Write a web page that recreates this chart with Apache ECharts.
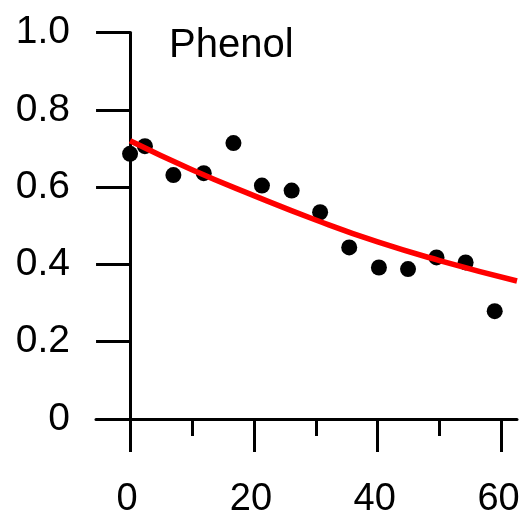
<!DOCTYPE html>
<html>
<head>
<meta charset="utf-8">
<script src="https://cdn.jsdelivr.net/npm/echarts@6/dist/echarts.min.js"></script>
<style>html,body{margin:0;padding:0;background:#fff}#c{width:524px;height:516px}</style>
</head>
<body>
<div id="c"></div>
<script>
// Measured data (time, relative amount)
var timeValues = [0, 2.4, 7.0, 11.9, 16.7, 21.3, 26.1, 30.7, 35.4, 40.2, 44.9, 49.5, 54.2, 58.9];
var phenolValues = [0.686, 0.706, 0.631, 0.636, 0.714, 0.604, 0.591, 0.535, 0.444, 0.392, 0.388, 0.418, 0.405, 0.279];
// Fitted curve
var fitX = [0, 10, 20, 30, 40, 50, 62.5];
var fitY = [0.720, 0.645, 0.578, 0.515, 0.458, 0.410, 0.357];
var xMajorTicks = [0, 20, 40, 60];
var xMinorTicks = [10, 30, 50];
var titleText = 'Phenol';

var pts = timeValues.map(function (t, i) { return [t, phenolValues[i]]; });
var fit = fitX.map(function (t, i) { return [t, fitY[i]]; });

var font = 'Liberation Sans, Arial, Helvetica, sans-serif';
var chart = echarts.init(document.getElementById('c'), null, {renderer: 'canvas'});
chart.setOption({
  animation: false,
  backgroundColor: '#fff',
  grid: {left: 96, right: 7, top: 32.5, bottom: 97, containLabel: false, outerBoundsMode: 'none'},
  title: {
    text: titleText, left: 164, top: 21,
    textStyle: {fontFamily: font, fontSize: 40, fontWeight: 'normal', color: '#000'}
  },
  xAxis: [{
    type: 'value', min: -5.5, max: 62.5, position: 'bottom',
    splitLine: {show: false},
    axisLine: {show: true, onZero: false, lineStyle: {color: '#000', width: 3}},
    axisTick: {show: true, customValues: xMajorTicks, length: 33, inside: false, lineStyle: {color: '#000', width: 3}},
    axisLabel: {show: true, customValues: xMajorTicks, margin: 62, padding: [0, 6, 0, 0], color: '#000', fontFamily: font, fontSize: 38}
  }, {
    type: 'value', min: -5.5, max: 62.5, position: 'bottom', offset: 0,
    splitLine: {show: false},
    axisLine: {show: false, onZero: false},
    axisTick: {show: true, customValues: xMinorTicks, length: 17, lineStyle: {color: '#000', width: 3}},
    axisLabel: {show: false}
  }],
  yAxis: {
    type: 'value', min: 0, max: 1, interval: 0.2,
    splitLine: {show: false},
    axisLine: {show: true, onZero: true, onZeroAxisIndex: 0, lineStyle: {color: '#000', width: 3}},
    axisTick: {show: true, length: 34, lineStyle: {color: '#000', width: 3}},
    axisLabel: {
      show: true, margin: 26, color: '#000', fontFamily: font, fontSize: 39,
      formatter: function (v) { return v === 0 ? '0' : v.toFixed(1); }
    }
  },
  series: [{
    type: 'scatter', data: pts, symbol: 'circle', symbolSize: 16,
    itemStyle: {color: '#000', opacity: 1}, z: 2
  }, {
    type: 'line', data: fit, smooth: true, showSymbol: false, symbol: 'none',
    lineStyle: {color: '#ff0000', width: 5.5}, z: 3
  }]
});
</script>
</body>
</html>
